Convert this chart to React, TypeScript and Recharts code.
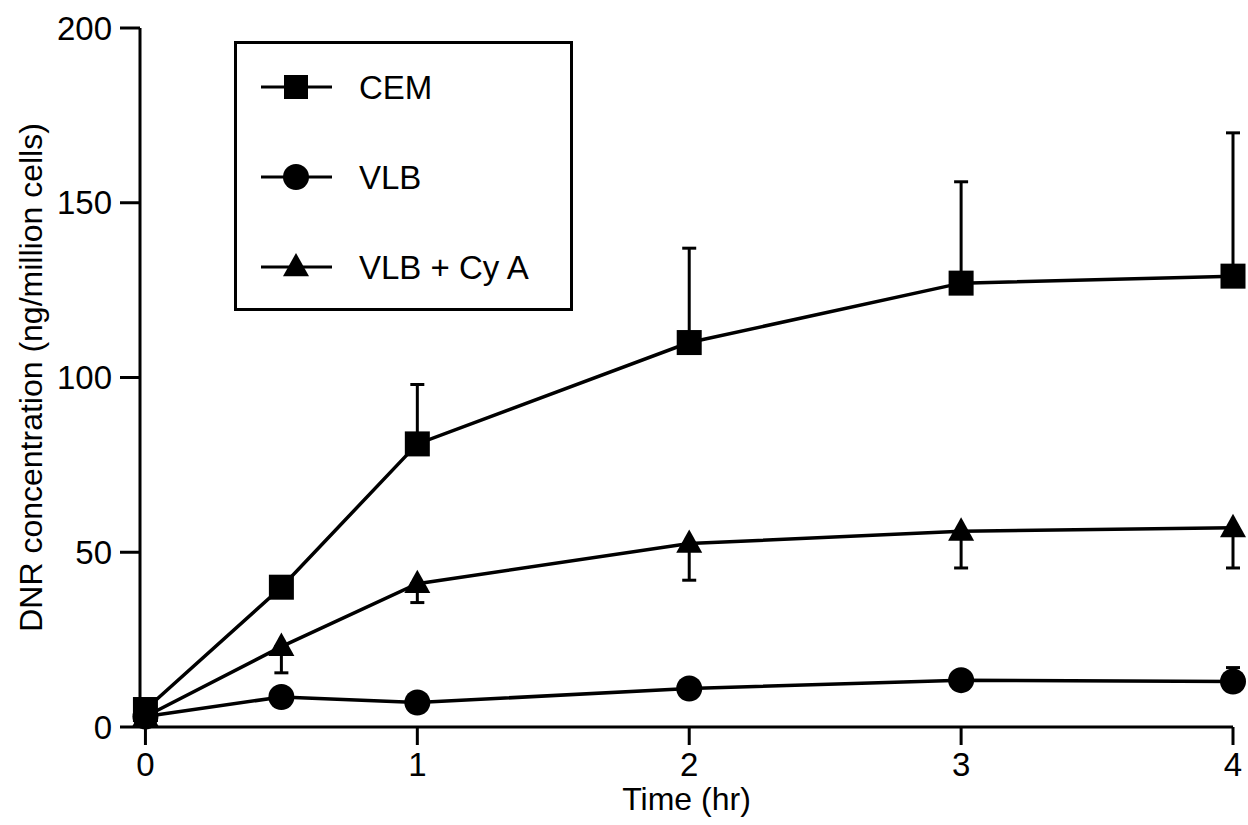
import React from 'react';
import { LineChart, Line, XAxis, YAxis, ErrorBar, Legend } from 'recharts';

const times = [0, 0.5, 1, 2, 3, 4];
const cemValues = [5, 40, 81, 110, 127, 129];
const cemErrUp = [0, 0, 17, 27, 29, 41];
const vlbValues = [3, 8.6, 7, 11, 13.4, 13];
const vlbErrUp = [0, 0, 0, 0, 0, 4];
const cyaValues = [3, 23, 41, 52.5, 56, 57];
const cyaErrDown = [0, 7.5, 5.4, 10.5, 10.5, 11.5];
const xTicks = [0, 1, 2, 3, 4];
const yTicks = [0, 50, 100, 150, 200];
const seriesNames = ['CEM', 'VLB', 'VLB + Cy A'];

const data = times.map((t, i) => ({
  t,
  cem: cemValues[i],
  cemErr: [0, cemErrUp[i]],
  vlb: vlbValues[i],
  vlbErr: [0, vlbErrUp[i]],
  cya: cyaValues[i],
  cyaErr: [cyaErrDown[i], 0],
}));

const FONT = '"Liberation Sans", Arial, Helvetica, sans-serif';

const Square = (cx: number, cy: number, s: number, key?: any) => (
  <rect key={key} x={cx - s / 2} y={cy - s / 2} width={s} height={s} fill="#000" />
);
const Circle = (cx: number, cy: number, r: number, key?: any) => (
  <circle key={key} cx={cx} cy={cy} r={r} fill="#000" />
);
const Triangle = (cx: number, cy: number, w: number, key?: any) => {
  const h = w * 0.9;
  return (
    <path
      key={key}
      d={`M${cx},${cy - h * 0.6} L${cx + w / 2},${cy + h * 0.4} L${cx - w / 2},${cy + h * 0.4} Z`}
      fill="#000"
    />
  );
};

const renderLegend = () => {
  const shapes = [
    (cx: number, cy: number) => Square(cx, cy, 24),
    (cx: number, cy: number) => Circle(cx, cy, 13),
    (cx: number, cy: number) => Triangle(cx, cy, 26),
  ];
  return (
    <svg width={339} height={270} style={{ display: 'block' }}>
      <rect x={1.5} y={1.5} width={336} height={267} fill="#fff" stroke="#000" strokeWidth={3} />
      {seriesNames.map((name, i) => {
        const cy = 46 + i * 90;
        return (
          <g key={name}>
            <line x1={27} x2={98} y1={cy} y2={cy} stroke="#000" strokeWidth={3} />
            {shapes[i](62, cy)}
            <text x={125} y={cy} dy="0.36em" fontSize={33} fontFamily={FONT} fill="#000">
              {name}
            </text>
          </g>
        );
      })}
    </svg>
  );
};

export default function App() {
  return (
    <div style={{ position: 'absolute', left: 0, top: 0, width: 1248, height: 825, background: '#fff' }}>
      <LineChart
        width={1248}
        height={825}
        data={data}
        margin={{ top: 28, right: 15, bottom: 38, left: 40 }}
      >
        <XAxis
          dataKey="t"
          type="number"
          domain={[-0.02, 4]}
          ticks={xTicks}
          height={60}
          tickSize={18}
          tickMargin={8}
          stroke="#000"
          strokeWidth={3}
          tick={{ fill: '#000', fontSize: 33, fontFamily: FONT }}
          label={{
            content: (p: any) => {
              const vb = p.viewBox;
              return (
                <text x={vb.x + vb.width / 2} y={vb.y + 83} textAnchor="middle" fontSize={32} fontFamily={FONT} fill="#000">
                  Time (hr)
                </text>
              );
            },
          }}
        />
        <YAxis
          type="number"
          domain={[0, 200]}
          ticks={yTicks}
          width={100}
          tickSize={20}
          tickMargin={8}
          stroke="#000"
          strokeWidth={3}
          tick={{ fill: '#000', fontSize: 33, fontFamily: FONT }}
          label={{
            content: (p: any) => {
              const vb = p.viewBox;
              const x = vb.x - 10;
              const y = vb.y + vb.height / 2;
              return (
                <text
                  x={x}
                  y={y}
                  transform={`rotate(-90, ${x}, ${y})`}
                  textAnchor="middle"
                  dy="0.36em"
                  fontSize={32}
                  fontFamily={FONT}
                  fill="#000"
                >
                  DNR concentration (ng/million cells)
                </text>
              );
            },
          }}
        />
        <Legend
          content={renderLegend}
          layout="horizontal"
          verticalAlign="middle"
          align="center"
          wrapperStyle={{ left: 234, top: 41, width: 339, height: 270 }}
        />
        <Line
          dataKey="vlb"
          name="VLB"
          stroke="#000"
          strokeWidth={3.5}
          isAnimationActive={false}
          dot={(p: any) => Circle(p.cx, p.cy, 13, p.key ?? `v${p.index}`)}
          activeDot={false}
        >
          <ErrorBar dataKey="vlbErr" direction="y" width={7} stroke="#000" strokeWidth={3} isAnimationActive={false} />
        </Line>
        <Line
          dataKey="cya"
          name="VLB + Cy A"
          stroke="#000"
          strokeWidth={3.5}
          isAnimationActive={false}
          dot={(p: any) => Triangle(p.cx, p.cy, 26, p.key ?? `t${p.index}`)}
          activeDot={false}
        >
          <ErrorBar dataKey="cyaErr" direction="y" width={7} stroke="#000" strokeWidth={3} isAnimationActive={false} />
        </Line>
        <Line
          dataKey="cem"
          name="CEM"
          stroke="#000"
          strokeWidth={3.5}
          isAnimationActive={false}
          dot={(p: any) => Square(p.cx, p.cy, 25, p.key ?? `s${p.index}`)}
          activeDot={false}
        >
          <ErrorBar dataKey="cemErr" direction="y" width={7} stroke="#000" strokeWidth={3} isAnimationActive={false} />
        </Line>
      </LineChart>
    </div>
  );
}
